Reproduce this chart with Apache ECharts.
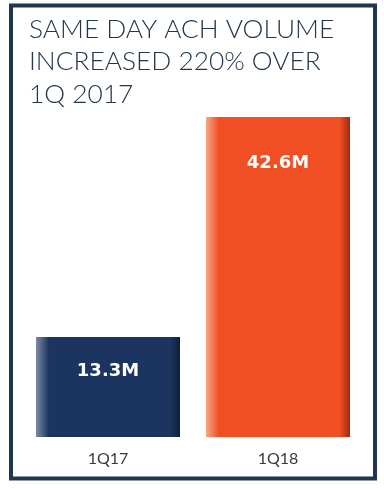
<!DOCTYPE html>
<html>
<head>
<meta charset="utf-8">
<script src="https://cdn.jsdelivr.net/npm/echarts@6/dist/echarts.min.js"></script>
<style>
html,body{margin:0;padding:0;background:#fff;}
#c{width:384px;height:489px;}
</style>
</head>
<body>
<div id="c"></div>
<script>
var titleLines = ['SAME DAY ACH VOLUME', 'INCREASED 220% OVER', '1Q 2017'];
var categories = ['1Q17', '1Q18'];
var values = [13.3, 42.6];
var valueLabels = ['13.3M', '42.6M'];

var chart = echarts.init(document.getElementById('c'), null, {renderer: 'canvas'});

function barGrad(light, main, dark) {
  return new echarts.graphic.LinearGradient(0, 0, 1, 0, [
    {offset: 0, color: light},
    {offset: 0.09, color: main},
    {offset: 0.93, color: main},
    {offset: 1, color: dark}
  ]);
}
var fills = [
  barGrad('#7d8aa3', '#1b3560', '#0f1f3c'),
  barGrad('#f7a888', '#f04e23', '#9e2a0e')
];
var labelDist = [25, 37];

var option = {
  backgroundColor: '#ffffff',
  animation: false,
  title: {
    text: titleLines.join('\n'),
    left: 24,
    top: 8,
    textStyle: {
      fontFamily: 'Lato',
      fontWeight: 300,
      fontSize: 26.3,
      lineHeight: 32.5,
      color: '#22364d'
    }
  },
  graphic: [{
    type: 'rect',
    shape: {x: 11, y: 5.5, width: 364, height: 473},
    style: {fill: 'none', stroke: '#1f3550', lineWidth: 4},
    silent: true
  }],
  grid: {left: 23, right: 21, top: 117, bottom: 52},
  xAxis: {
    type: 'category',
    data: categories,
    axisLine: {show: false},
    axisTick: {show: false},
    axisLabel: {
      margin: 14,
      fontFamily: 'Lato',
      fontWeight: 400,
      fontSize: 16,
      color: '#3a3a3a'
    }
  },
  yAxis: {
    type: 'value',
    min: 0,
    max: 42.6,
    show: false,
    splitLine: {show: false}
  },
  series: [{
    type: 'bar',
    barWidth: 144,
    data: values.map(function (v, i) {
      return {
        value: v,
        itemStyle: {color: fills[i]},
        label: {distance: labelDist[i]}
      };
    }),
    label: {
      show: true,
      position: 'insideTop',
      formatter: function (p) { return valueLabels[p.dataIndex]; },
      fontFamily: 'DejaVu Sans',
      fontWeight: 'bold',
      fontSize: 18,
      color: '#ffffff'
    }
  }]
};
chart.setOption(option);
</script>
</body>
</html>
